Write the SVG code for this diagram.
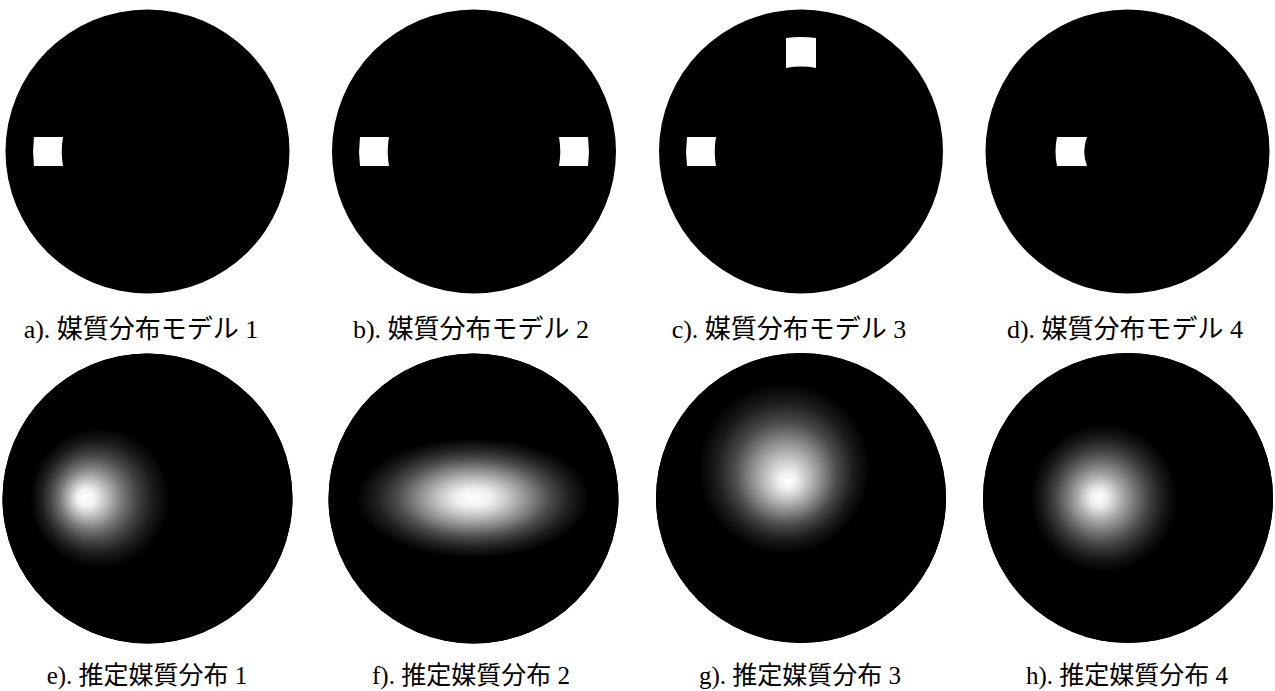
<svg xmlns="http://www.w3.org/2000/svg" width="1275" height="691" viewBox="0 0 1275 691">
<style>
.disk{fill:#000}
.incl{fill:#fff}
.lbl{font-family:"Liberation Serif","Noto Sans CJK JP",serif;font-size:25px;fill:#000;text-anchor:middle}
.top{font-size:26px}
.jp{font-family:"Noto Sans CJK JP","Noto Sans CJK SC",sans-serif}
</style>
<defs>
<radialGradient id="gE" gradientUnits="userSpaceOnUse" cx="100" cy="498" r="70" fx="84" fy="498">
<stop offset="0" stop-color="#fff"/><stop offset="0.12" stop-color="#f4f4f4"/><stop offset="0.28" stop-color="#b8b8b8"/><stop offset="0.45" stop-color="#777"/><stop offset="0.62" stop-color="#444"/><stop offset="0.8" stop-color="#1c1c1c"/><stop offset="1" stop-color="#000"/>
</radialGradient>
<radialGradient id="gF" gradientUnits="userSpaceOnUse" cx="0" cy="0" r="60" gradientTransform="translate(473.5 498) scale(1.95 1)">
<stop offset="0" stop-color="#fff"/><stop offset="0.15" stop-color="#f0f0f0"/><stop offset="0.3" stop-color="#c4c4c4"/><stop offset="0.48" stop-color="#888"/><stop offset="0.65" stop-color="#4c4c4c"/><stop offset="0.82" stop-color="#202020"/><stop offset="1" stop-color="#000"/>
</radialGradient>
<radialGradient id="gG" gradientUnits="userSpaceOnUse" cx="784" cy="468" r="86" fx="788" fy="482">
<stop offset="0" stop-color="#fff"/><stop offset="0.1" stop-color="#f0f0f0"/><stop offset="0.25" stop-color="#c0c0c0"/><stop offset="0.42" stop-color="#888"/><stop offset="0.6" stop-color="#4a4a4a"/><stop offset="0.8" stop-color="#1c1c1c"/><stop offset="1" stop-color="#000"/>
</radialGradient>
<radialGradient id="gH" gradientUnits="userSpaceOnUse" cx="1104" cy="498" r="74" fx="1098" fy="498">
<stop offset="0" stop-color="#fff"/><stop offset="0.12" stop-color="#ececec"/><stop offset="0.3" stop-color="#aaa"/><stop offset="0.48" stop-color="#707070"/><stop offset="0.66" stop-color="#3c3c3c"/><stop offset="0.84" stop-color="#161616"/><stop offset="1" stop-color="#000"/>
</radialGradient>
</defs>
<rect width="1275" height="691" fill="#fff"/>

<g id="model1">
<circle class="disk" cx="147.5" cy="151.5" r="142"/>
<path class="incl" d="M34,137 H63 A85 85 0 0 0 63,166 H34 A114 114 0 0 1 34,137 Z"/>
<text class="lbl top" x="141" y="338">a). <tspan class="jp">媒質分布モデル</tspan> 1</text>
</g>

<g id="model2">
<circle class="disk" cx="474" cy="151.5" r="142"/>
<path class="incl" d="M360,137 H389 A85 85 0 0 0 389,166 H360 A114 114 0 0 1 360,137 Z"/>
<path class="incl" d="M559,137 H588 A114 114 0 0 1 588,166 H559 A85 85 0 0 0 559,137 Z"/>
<text class="lbl top" x="471" y="338">b). <tspan class="jp">媒質分布モデル</tspan> 2</text>
</g>

<g id="model3">
<circle class="disk" cx="801" cy="151.5" r="142"/>
<path class="incl" d="M687,137 H716 A85 85 0 0 0 716,166 H687 A114 114 0 0 1 687,137 Z"/>
<path class="incl" d="M786,68 A83 83 0 0 1 816,68 V38 A113 113 0 0 0 786,38 Z"/>
<text class="lbl top" x="789" y="338">c). <tspan class="jp">媒質分布モデル</tspan> 3</text>
</g>

<g id="model4">
<circle class="disk" cx="1127.5" cy="151.5" r="142"/>
<path class="incl" d="M1057,137 H1087 A41 41 0 0 0 1087,166 H1057 A71 71 0 0 1 1057,137 Z"/>
<text class="lbl top" x="1125" y="338">d). <tspan class="jp">媒質分布モデル</tspan> 4</text>
</g>

<g id="est1">
<circle class="disk" cx="147.5" cy="498.5" r="145"/>
<circle cx="147.5" cy="498.5" r="145" fill="url(#gE)"/>
<text class="lbl" x="147" y="684">e). <tspan class="jp">推定媒質分布</tspan> 1</text>
</g>

<g id="est2">
<circle class="disk" cx="473.5" cy="498.5" r="145"/>
<circle cx="473.5" cy="498.5" r="145" fill="url(#gF)"/>
<text class="lbl" x="471" y="684">f). <tspan class="jp">推定媒質分布</tspan> 2</text>
</g>

<g id="est3">
<circle class="disk" cx="801" cy="498" r="145"/>
<circle cx="801" cy="498" r="145" fill="url(#gG)"/>
<text class="lbl" x="800" y="684">g). <tspan class="jp">推定媒質分布</tspan> 3</text>
</g>

<g id="est4">
<circle class="disk" cx="1128" cy="498" r="145"/>
<circle cx="1128" cy="498" r="145" fill="url(#gH)"/>
<text class="lbl" x="1127" y="684">h). <tspan class="jp">推定媒質分布</tspan> 4</text>
</g>

<g id="connectors"/>
</svg>
